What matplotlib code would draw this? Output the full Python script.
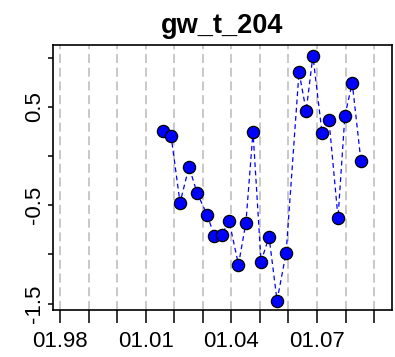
import numpy as np
import pandas as pd
import matplotlib
matplotlib.use("Agg")
import matplotlib.pyplot as plt
import matplotlib.dates as mdates

plt.rcParams['font.family'] = ['Liberation Sans', 'DejaVu Sans']

# groundwater series for well gw_t_204
dates = ["2001-08-11", "2001-11-20", "2002-03-15", "2002-07-08", "2002-10-18",
         "2003-02-24", "2003-05-30", "2003-09-02", "2003-12-02", "2004-04-01",
         "2004-07-05", "2004-10-04", "2005-01-15", "2005-04-27", "2005-08-08",
         "2005-12-02", "2006-05-16", "2006-08-15", "2006-11-10", "2007-03-07",
         "2007-06-03", "2007-09-27", "2007-12-24", "2008-03-27", "2008-07-16"]
values = [0.256, 0.206, -0.475, -0.109, -0.373,
          -0.596, -0.815, -0.800, -0.657, -1.104,
          -0.678, 0.246, -1.074, -0.820, -1.470,
          -0.982, 0.855, 0.459, 1.018, 0.231,
          0.368, -0.627, 0.409, 0.744, -0.048]

# yearly ticks, labelled every third year
tick_years = list(range(1998, 2010))
label_years = [1998, 2001, 2004, 2007]
y_ticks = [-1.5, -1.0, -0.5, 0.0, 0.5, 1.0]
y_labels = ["-1.5", "", "-0.5", "", "0.5", ""]

x = pd.to_datetime(dates)
ticks = pd.to_datetime([f"{yr}-01-01" for yr in tick_years])
tick_labels = [t.strftime("%m.%y") if t.year in label_years else "" for t in ticks]

fig = plt.figure(figsize=(3.95, 3.57), dpi=100)
ax = fig.add_axes([0.1334, 0.1317, 0.8590, 0.7413])

# grey dashed vertical guides at each year
for t in ticks:
    ax.axvline(t, color="#c4c4c4", lw=1.3, dashes=(5, 2.6), zorder=1)

ax.plot(x, values, color="blue", lw=0.9, dashes=(3.8, 2.8), zorder=2)
ax.plot(x, values, "o", ms=8.8, mfc="blue", mec="black", mew=0.9, zorder=3)

ax.set_xlim(pd.Timestamp("1997-09-27"), pd.Timestamp("2009-08-18"))
ax.set_ylim(-1.565, 1.125)

ax.set_xticks(ticks)
ax.set_xticklabels(tick_labels)
ax.set_yticks(y_ticks)
ax.set_yticklabels(y_labels, rotation=90, va="center")

ax.tick_params(axis="x", length=9.4, width=1.1, pad=5.5, labelsize=16)
ax.tick_params(axis="y", length=3.4, width=1.1, pad=2, labelsize=16)
for s in ax.spines.values():
    s.set_linewidth(1.2)

ax.set_title("gw_t_204", fontsize=19.5, fontweight="bold", pad=9)

fig.savefig("out.png", dpi=100)
